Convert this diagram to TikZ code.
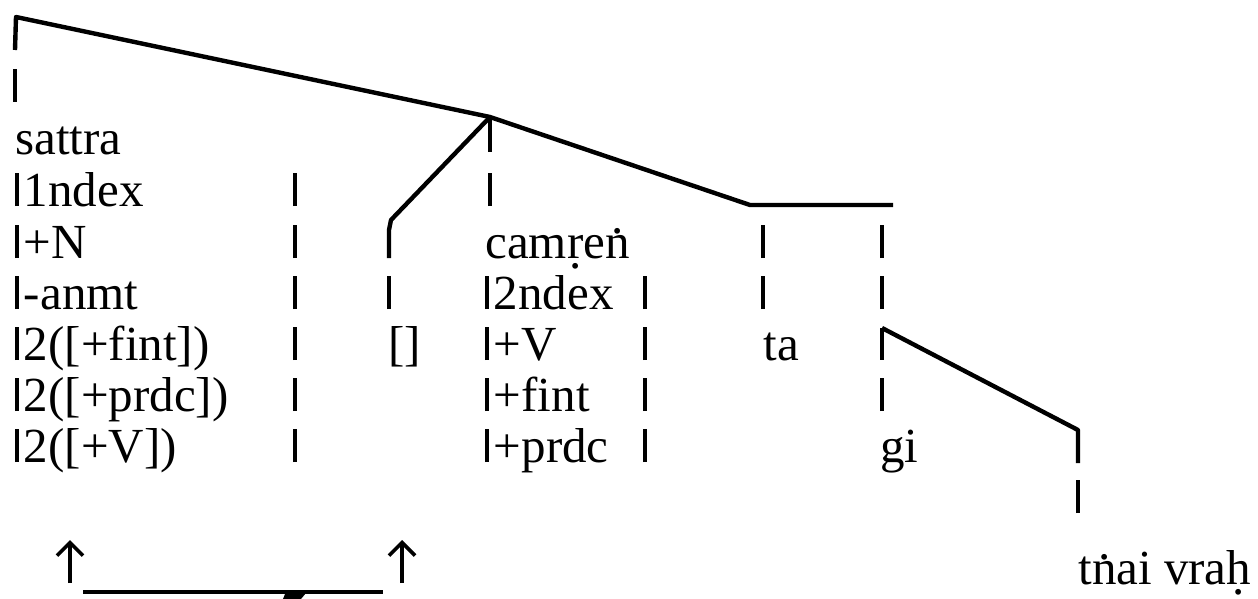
\documentclass[tikz,border=0pt]{standalone}
\usepackage{fontspec}
\setmainfont{Liberation Serif}
\usetikzlibrary{arrows.meta}
\newcommand{\vb}{\rule{0.075em}{0.68em}\kern0.1em}
\newcommand{\dotbelow}[1]{\leavevmode\hbox{\ooalign{#1\cr\hidewidth\raisebox{-0.22em}{.}\hidewidth}}}
\newcommand{\dotabove}[1]{\leavevmode\hbox{\ooalign{#1\cr\hidewidth\raisebox{0.5em}{.}\hidewidth}}}

\begin{document}
\begin{tikzpicture}[x=0.5pt, y=-0.5pt,
    tree/.style={line width=2.2pt, line join=round},
    tick/.style={line width=1.9pt},
    word/.style={anchor=base west, inner sep=0pt, font=\fontsize{24.5pt}{26pt}\selectfont},
    up/.style={line width=1.8pt, -{Straight Barb[length=6.5pt, width=13pt]}}]
  \useasboundingbox (0,0) rectangle (1258,599);

  % tree lines
  \coordinate (root) at (16,17);
  \coordinate (apex) at (490,117);
  \coordinate (knee) at (750,205);
  \coordinate (bend) at (893,205);
  \coordinate (gap) at (391,220);
  \coordinate (fork) at (882,328);
  \coordinate (leaf) at (1078,430);
  \draw[tree] (root) ++(-1,33) -- (root) -- (apex) -- (knee) -- (bend);
  \draw[tree] (apex) -- ++(0,35);
  \draw[tree] (apex) -- (gap) -- ++(-2,10) -- ++(0,28);
  \draw[tree] (fork) -- ++(0,32);
  \draw[tree] (fork) -- (leaf) -- ++(0,33);

  \foreach \x/\y in {15/102, 490/206, 295/206, 295/258, 295/309, 295/360, 295/411, 295/462,
      389/309, 645/309, 645/360, 645/411, 645/462, 763/258, 763/309,
      882/258, 882/309, 882/411, 1078/513}
    \draw[tick] (\x,\y) -- ++(0,-33);

  % first column
  \node[word] (sattra) at (15,155) {sattra};
  \node[word] (index1) at (15,206) {\vb 1ndex};
  \node[word] (noun) at (15,258) {\vb +N};
  \node[word] (anmt) at (15,309) {\vb -anmt};
  \node[word] (fint1) at (15,360) {\vb 2([+fint])};
  \node[word] (prdc1) at (15,411) {\vb 2([+prdc])};
  \node[word] (verb1) at (15,462) {\vb 2([+V])};

  \node[word] (empty) at (388,360) {[]};

  % second column
  \node[word] (camren) at (485,258) {cam\dotbelow{r}e\dotabove{n}};
  \node[word] (index2) at (485,309) {\vb 2ndex};
  \node[word] (verb2) at (485,360) {\vb +V};
  \node[word] (fint2) at (485,411) {\vb +fint};
  \node[word] (prdc2) at (485,462) {\vb +prdc};

  \node[word] (ta) at (763,360) {ta};
  \node[word] (gi) at (880,462) {gi};
  \node[word] (tnai) at (1078,584) {t\dotabove{n}ai vra\dotbelow{h}};

  % movement
  \coordinate (upL) at (70,583);
  \coordinate (upR) at (402,583);
  \draw[up] (upL) -- ++(0,-43);
  \draw[up] (upR) -- ++(0,-43);
  \coordinate (lineL) at (83,592);
  \coordinate (lineR) at (383,592);
  \draw[tree] (lineL) -- (lineR);
  \fill (285,594) -- (306,593) -- (301,599) -- (283,599) -- cycle;
\end{tikzpicture}
\end{document}
